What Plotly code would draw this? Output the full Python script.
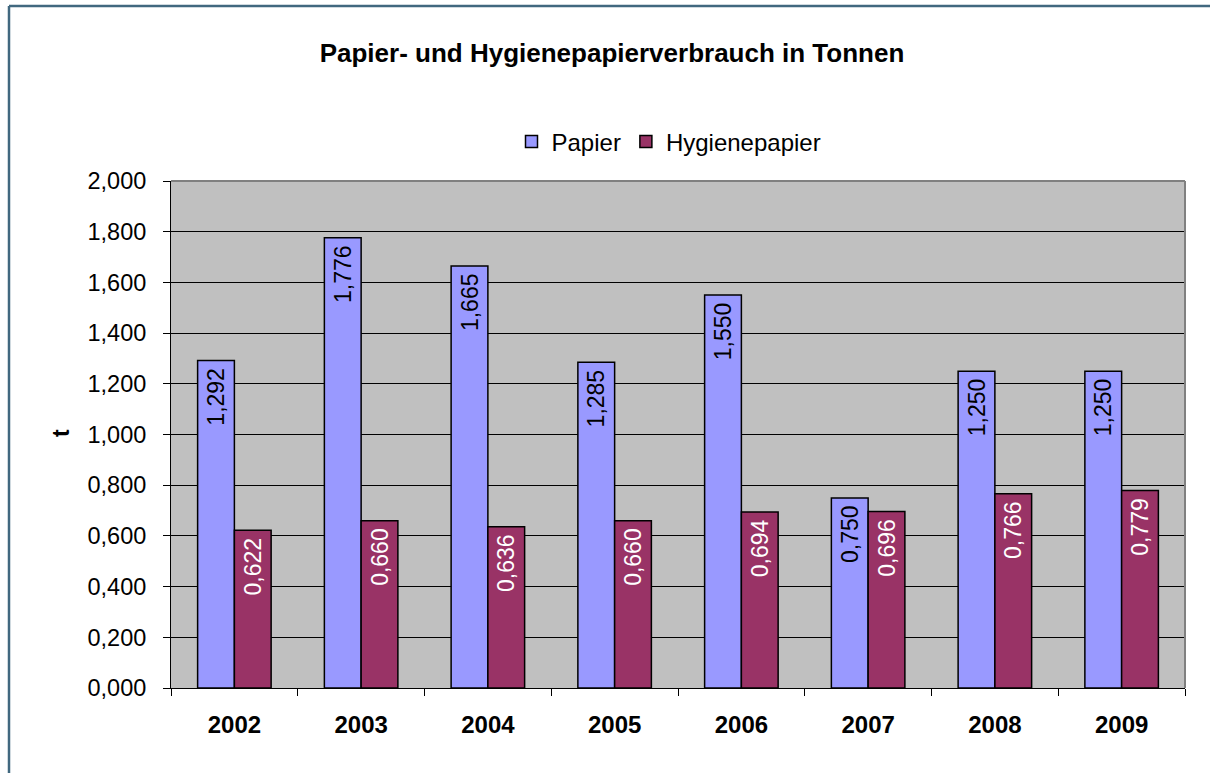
import plotly.graph_objects as go

years = ["2002", "2003", "2004", "2005", "2006", "2007", "2008", "2009"]
papier = [1.292, 1.776, 1.665, 1.285, 1.550, 0.750, 1.250, 1.250]
hygienepapier = [0.622, 0.660, 0.636, 0.660, 0.694, 0.696, 0.766, 0.779]
y_ticks = [0.0, 0.2, 0.4, 0.6, 0.8, 1.0, 1.2, 1.4, 1.6, 1.8, 2.0]

FONT = "Arial, Liberation Sans, sans-serif"
W, H = 1210, 773
L, R, T, B = 171, 25, 181, 85
PW, PH = W - L - R, H - T - B

def px_x(x):
    return (x - L) / PW

def px_y(y):
    return (H - B - y) / PH

LABEL_TPL = "%{y:.3f}\u2009"

fig = go.Figure()
fig.add_trace(go.Bar(
    x=years, y=papier, name="Papier",
    marker=dict(color="#9999FF", line=dict(color="black", width=1.5)),
    texttemplate=LABEL_TPL, textposition="inside", insidetextanchor="end",
    textangle=-90, textfont=dict(family=FONT, size=23, color="black"),
    constraintext="none",
))
fig.add_trace(go.Bar(
    x=years, y=hygienepapier, name="Hygienepapier",
    marker=dict(color="#993366", line=dict(color="black", width=1.5)),
    texttemplate=LABEL_TPL, textposition="inside", insidetextanchor="end",
    textangle=-90, textfont=dict(family=FONT, size=23, color="white"),
    constraintext="none",
))

fig.update_layout(
    width=W, height=H,
    margin=dict(l=L, r=R, t=T, b=B, autoexpand=False),
    paper_bgcolor="white", plot_bgcolor="#C0C0C0",
    separators=",.",
    barmode="group", bargap=0.42, bargroupgap=0,
    font=dict(family=FONT, size=22, color="black"),
    title=dict(text="<b>Papier- und Hygienepapierverbrauch in Tonnen</b>",
               x=612 / W, xref="container", xanchor="center",
               y=1 - 53 / H, yref="container", yanchor="middle",
               font=dict(family=FONT, size=26, color="black")),
    legend=dict(orientation="h", x=px_x(669), xanchor="center",
                y=px_y(142), yanchor="middle",
                font=dict(family=FONT, size=24, color="black"),
                itemwidth=30, tracegroupgap=0, bgcolor="rgba(0,0,0,0)"),
    showlegend=True,
)

fig.update_xaxes(
    type="category", showgrid=False, showline=True, linecolor="black", linewidth=1,
    ticks="outside", tickson="boundaries", ticklen=7, tickcolor="black",
    tickfont=dict(family=FONT, size=24, color="black"),
    ticklabelstandoff=15,
    tickprefix="<b>", ticksuffix="</b>",
)
fig.update_yaxes(
    range=[0, 2.0], tickvals=y_ticks, tickformat=".3f",
    showgrid=True, gridcolor="black", gridwidth=1,
    showline=True, linecolor="black", linewidth=1,
    ticks="outside", ticklen=7, tickcolor="black",
    tickfont=dict(family=FONT, size=23.5, color="black"),
    ticklabelstandoff=12, zeroline=False,
)

fig.add_annotation(text="<b>t</b>", textangle=-90, xref="paper", yref="paper",
                   x=px_x(61), y=px_y(433), xanchor="center", yanchor="middle",
                   showarrow=False,
                   font=dict(family=FONT, size=23, color="black"))

# plot area top/right border (grey)
fig.add_shape(type="line", xref="paper", yref="paper", x0=0, x1=1, y0=1, y1=1,
              line=dict(color="#808080", width=2), layer="above")
fig.add_shape(type="line", xref="paper", yref="paper", x0=1, x1=1, y0=0, y1=1,
              line=dict(color="#808080", width=2), layer="above")
# outer chart border (left and top edges visible)
fig.add_shape(type="line", xref="paper", yref="paper",
              x0=px_x(9), x1=px_x(1212), y0=px_y(6), y1=px_y(6),
              line=dict(color="#41687F", width=2.5), layer="above")
fig.add_shape(type="line", xref="paper", yref="paper",
              x0=px_x(9), x1=px_x(9), y0=px_y(6), y1=px_y(776),
              line=dict(color="#41687F", width=2.5), layer="above")

fig.write_html(
    "out.html",
    config={"displayModeBar": False},
    post_script="document.documentElement.style.margin='0';document.documentElement.style.overflow='hidden';document.body.style.margin='0';document.body.style.overflow='hidden';",
)
